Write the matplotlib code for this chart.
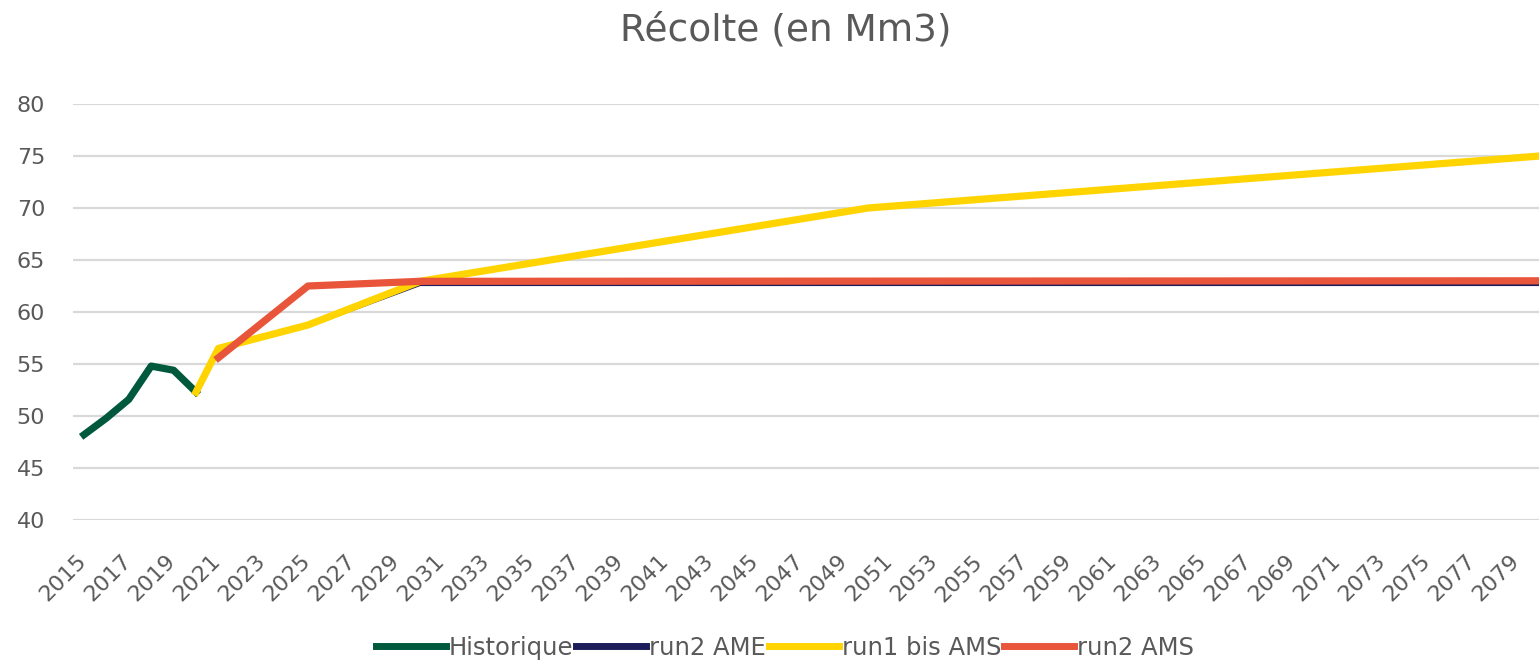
import matplotlib
matplotlib.use("Agg")
import matplotlib.pyplot as plt
import matplotlib.transforms as mtransforms

# ---- data ----
hist_years = [2015, 2016, 2017, 2018, 2019, 2020]
hist_vals = [48.2, 49.8, 51.6, 54.8, 54.4, 52.3]

ame_years = [2021, 2025, 2030, 2080]
ame_vals = [56.4, 58.6, 62.6, 62.6]

ams1_years = [2020, 2021, 2025, 2030, 2050, 2080]
ams1_vals = [52.3, 56.5, 58.75, 62.95, 70.0, 75.0]

ams2_years = [2021, 2025, 2030, 2080]
ams2_vals = [55.6, 62.5, 62.95, 63.0]

series_names = ["Historique", "run2 AME", "run1 bis AMS", "run2 AMS"]
tick_years = list(range(2015, 2080, 2))
y_ticks = [40, 45, 50, 55, 60, 65, 70, 75, 80]
title = "Récolte (en Mm3)"

# ---- style ----
plt.rcParams['font.family'] = ['DejaVu Sans']
txt = '#595959'
c_hist, c_ame, c_ams1, c_ams2 = '#00583d', '#1d1d5b', '#ffd400', '#e9553a'

W, H = 1539, 661
fig = plt.figure(figsize=(W / 100, H / 100), dpi=100)
left_px, step = 72.8, 22.4
ax = fig.add_axes([left_px / W, 1 - 520 / H, 1 - left_px / W, (520 - 104) / H])
xmax = 2014.5 + (W - left_px) / step
ax.set_xlim(2014.5, xmax)
ax.set_ylim(40, 80)

ax.plot(hist_years, hist_vals, color=c_hist, lw=5.2, label=series_names[0], zorder=3)
ax.plot(ame_years, ame_vals, color=c_ame, lw=1.6, label=series_names[1], zorder=3)
ax.plot(ams1_years, ams1_vals, color=c_ams1, lw=5.2, label=series_names[2], zorder=4)
ax.plot(ams2_years, ams2_vals, color=c_ams2, lw=5.2, label=series_names[3], zorder=5)

ax.set_yticks(y_ticks)
ax.set_xticks(tick_years)
ax.tick_params(axis='x', length=0, labelbottom=False)
lbl_tr = ax.get_xaxis_transform() + mtransforms.ScaledTranslation(-8 / 100, -31 / 100, fig.dpi_scale_trans)
for yr in tick_years:
    ax.text(yr, 0, str(yr), transform=lbl_tr, rotation=45, rotation_mode='anchor',
            ha='right', va='top', fontsize=16, color=txt, clip_on=False)
ax.tick_params(axis='y', length=0, pad=20, labelsize=16, labelcolor=txt)
ax.yaxis.grid(True, color='#d9d9d9', lw=1.6)
ax.set_axisbelow(True)
for s in ax.spines.values():
    s.set_visible(False)

fig.text(786 / W, 1 - 30 / H, title, ha='center', va='center', fontsize=27, color=txt)

handles, labels = ax.get_legend_handles_labels()
leg = fig.legend(handles, labels, loc='center', bbox_to_anchor=(785 / W, 1 - 648 / H),
                 ncol=4, frameon=False, fontsize=17.5, handlelength=2.9,
                 handletextpad=0.12, columnspacing=0.1, borderpad=0)
for t in leg.get_texts():
    t.set_color(txt)
for lh in leg.get_lines():
    lh.set_linewidth(5)

fig.savefig("out.png", dpi=100)
